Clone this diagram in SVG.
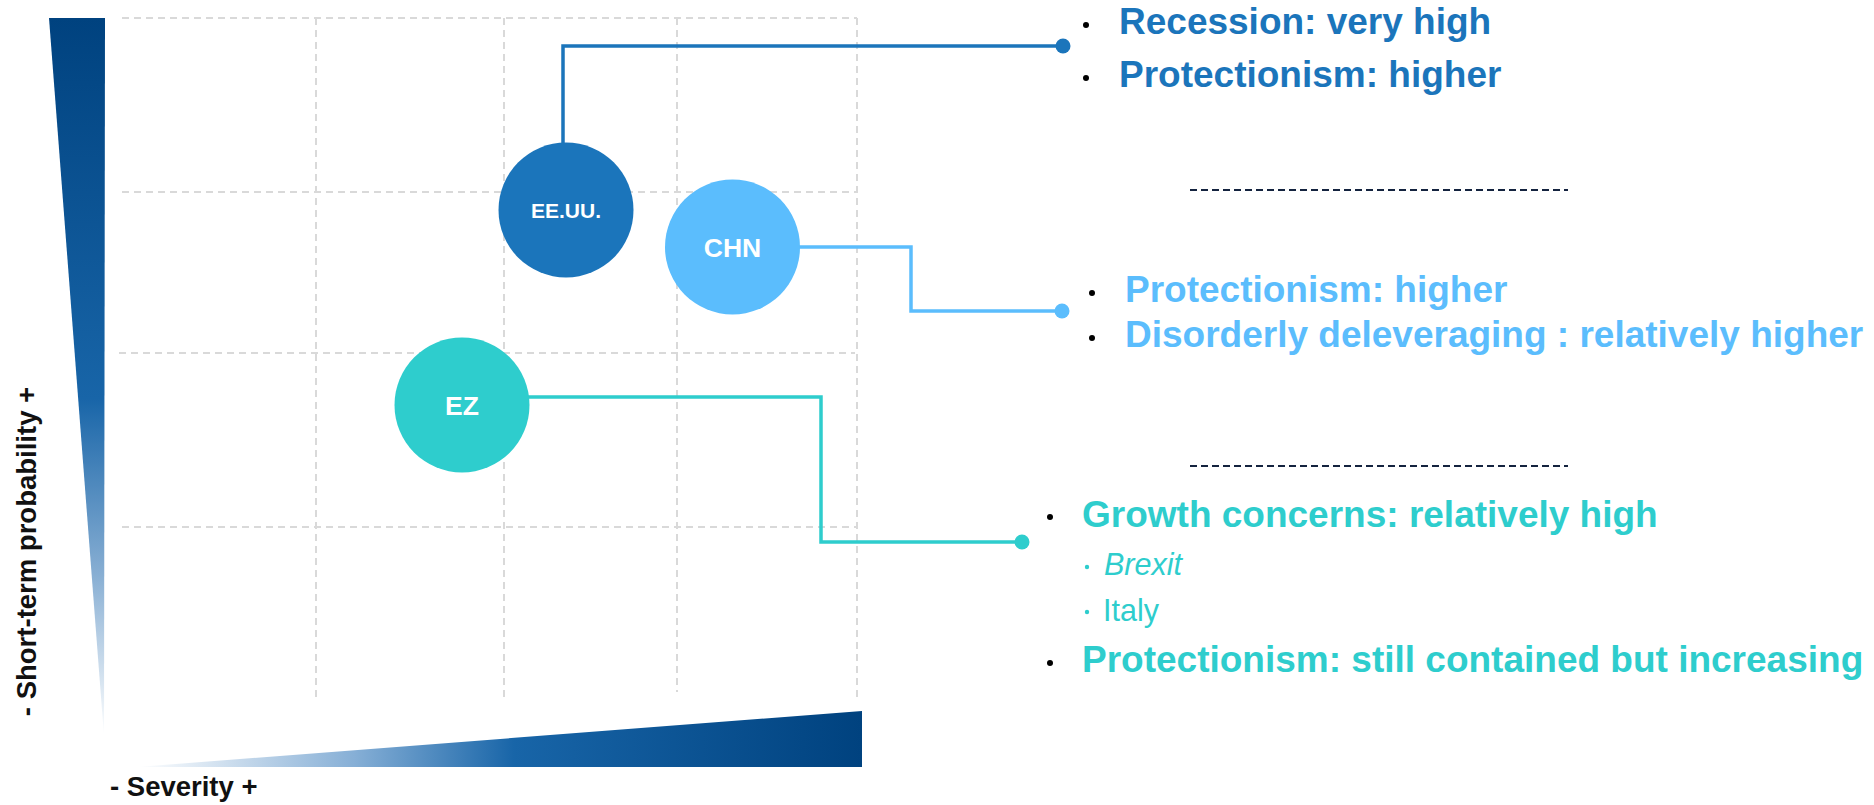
<svg xmlns="http://www.w3.org/2000/svg" width="1874" height="805" viewBox="0 0 1874 805">
  <style>
    text { font-family: "Liberation Sans", Arial, sans-serif; }
    .grid { stroke: #d9d9d9; stroke-width: 2; stroke-dasharray: 7 5; fill: none; }
    .sep { stroke: #14233f; stroke-width: 1.8; stroke-dasharray: 7 4; fill: none; }
    .axis { font-weight: bold; font-size: 27.5px; fill: #111; }
    .node-label { font-weight: bold; fill: #ffffff; text-anchor: middle; }
    .item { font-weight: bold; font-size: 37px; }
    .sub { font-size: 30.5px; }
    .bullet { fill: #000; }
    .us { fill: #1b75bb; }
    .cn { fill: #5bbdfd; }
    .ez { fill: #2ecdcd; }
    .link { fill: none; stroke-width: 3.5; }
  </style>
  <defs>
    <linearGradient id="gradV" x1="0" y1="0" x2="0" y2="1">
      <stop offset="0" stop-color="#00427f"/>
      <stop offset="0.53" stop-color="#1865a8"/>
      <stop offset="0.78" stop-color="#8ab0d4"/>
      <stop offset="1" stop-color="#ffffff"/>
    </linearGradient>
    <linearGradient id="gradH" x1="0" y1="0" x2="1" y2="0">
      <stop offset="0" stop-color="#ffffff"/>
      <stop offset="0.3" stop-color="#86afd6"/>
      <stop offset="0.52" stop-color="#1865a8"/>
      <stop offset="1" stop-color="#00427f"/>
    </linearGradient>
  </defs>

  <rect width="1874" height="805" fill="#ffffff"/>

  <!-- grid -->
  <g id="grid">
    <line class="grid" x1="122" y1="18" x2="857" y2="18"/>
    <line class="grid" x1="122" y1="192" x2="857" y2="192"/>
    <line class="grid" x1="119" y1="353" x2="855" y2="353"/>
    <line class="grid" x1="122" y1="527" x2="857" y2="527"/>
    <line class="grid" x1="316" y1="18" x2="316" y2="702"/>
    <line class="grid" x1="504" y1="18" x2="504" y2="702"/>
    <line class="grid" x1="677" y1="18" x2="677" y2="692"/>
    <line class="grid" x1="857" y1="18" x2="857" y2="702"/>
  </g>

  <!-- axes -->
  <g id="axis-probability">
    <polygon points="49,18 105,18 104,736" fill="url(#gradV)"/>
    <text class="axis" text-anchor="middle" transform="translate(36,551.5) rotate(-90)">- Short-term probability +</text>
  </g>
  <g id="axis-severity">
    <polygon points="137,767 862,711 862,767" fill="url(#gradH)"/>
    <text class="axis" x="110" y="796">- Severity +</text>
  </g>

  <!-- connectors -->
  <g id="connectors">
    <polyline class="link" stroke="#1b75bb" points="563,145 563,46 1063,46"/>
    <circle class="us" cx="1063" cy="46" r="7.5"/>
    <polyline class="link" stroke="#5bbdfd" points="799,247 911,247 911,311 1062,311"/>
    <circle class="cn" cx="1062" cy="311" r="7.5"/>
    <polyline class="link" stroke="#2ecdcd" points="528,397 821,397 821,542 1022,542"/>
    <circle class="ez" cx="1022" cy="542" r="7.5"/>
  </g>

  <!-- nodes -->
  <g id="node-us">
    <circle class="us" cx="566" cy="210" r="67.5"/>
    <text class="node-label" x="566" y="218" font-size="21">EE.UU.</text>
  </g>
  <g id="node-chn">
    <circle class="cn" cx="732.5" cy="247" r="67.5"/>
    <text class="node-label" x="732.5" y="257" font-size="26.5">CHN</text>
  </g>
  <g id="node-ez">
    <circle class="ez" cx="462" cy="405" r="67.5"/>
    <text class="node-label" x="462" y="415" font-size="26.5">EZ</text>
  </g>

  <!-- risk notes: United States -->
  <g id="notes-us">
    <circle class="bullet" cx="1086" cy="25" r="3"/>
    <text class="item us" x="1119" y="34">Recession: very high</text>
    <circle class="bullet" cx="1086" cy="78" r="3"/>
    <text class="item us" x="1119" y="87">Protectionism: higher</text>
  </g>

  <line class="sep" x1="1190" y1="190" x2="1568" y2="190"/>

  <!-- risk notes: China -->
  <g id="notes-chn">
    <circle class="bullet" cx="1092" cy="293" r="3"/>
    <text class="item cn" x="1125" y="302">Protectionism: higher</text>
    <circle class="bullet" cx="1092" cy="338" r="3"/>
    <text class="item cn" x="1125" y="347">Disorderly deleveraging : relatively higher</text>
  </g>

  <line class="sep" x1="1190" y1="466" x2="1568" y2="466"/>

  <!-- risk notes: Euro zone -->
  <g id="notes-ez">
    <circle class="bullet" cx="1050" cy="517" r="3"/>
    <text class="item ez" x="1082" y="527">Growth concerns: relatively high</text>
    <circle class="ez" cx="1087" cy="567" r="2.2"/>
    <text class="sub ez" x="1104" y="575" font-style="italic">Brexit</text>
    <circle class="ez" cx="1087" cy="612" r="2.2"/>
    <text class="sub ez" x="1103" y="621">Italy</text>
    <circle class="bullet" cx="1050" cy="663" r="3"/>
    <text class="item ez" x="1082" y="672">Protectionism: still contained but increasing</text>
  </g>
</svg>
